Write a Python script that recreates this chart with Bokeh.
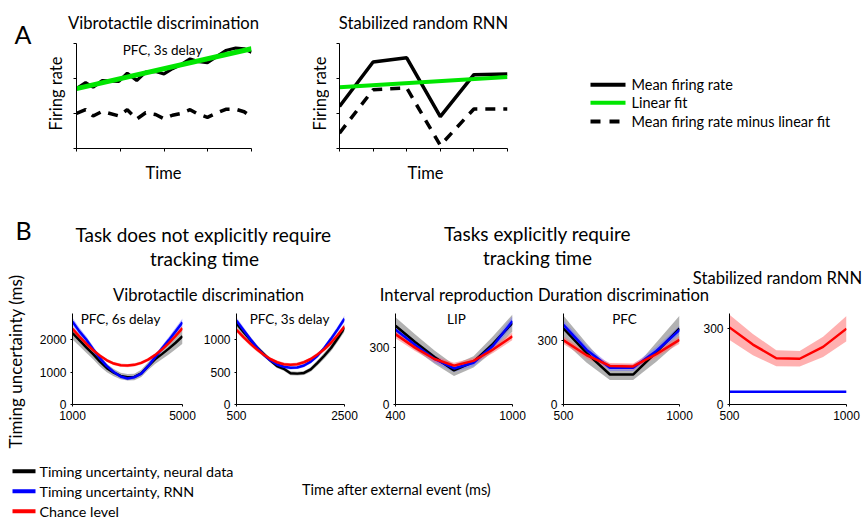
import numpy as np
from bokeh.plotting import figure
from bokeh.models import Range1d, Label, FixedTicker
from bokeh.layouts import row, column
from bokeh.embed import file_html
from bokeh.resources import INLINE

FONT = "Lato"
TICKFONT = "Liberation Sans"

# ---------------- data: panel A ----------------
a1_time = [0.0, 0.052, 0.095, 0.147, 0.242, 0.29, 0.344, 0.395, 0.452, 0.5,
           0.548, 0.595, 0.649, 0.691, 0.748, 0.796, 0.853, 0.91, 0.958, 1.0]
a1_mean = [1.71, 1.88, 1.75, 1.94, 1.92, 2.15, 1.94, 2.18, 2.2, 2.13,
           2.28, 2.39, 2.56, 2.49, 2.45, 2.61, 2.8, 2.87, 2.85, 2.75]
a1_fit_time = [0.0, 1.0]
a1_fit = [1.71, 2.85]
a1_detrended = [1.0, 1.11, 0.93, 1.06, 0.93, 1.11, 0.84, 1.02, 0.97, 0.85,
                0.95, 1.0, 1.11, 0.99, 0.89, 1.0, 1.12, 1.12, 1.05, 0.9]
a1_xticks = [0, 0.25, 0.5, 0.75, 1.0]

a2_time = [0, 1, 2, 3, 4, 5]
a2_mean = [1.2, 2.47, 2.59, 0.91, 2.11, 2.13]
a2_fit_time = [0, 5]
a2_fit = [1.75, 2.04]
a2_detrended = [0.44, 1.68, 1.73, 0.09, 1.13, 1.13]
a2_xticks = [0, 1, 2, 3, 4, 5]
a_yticks = [0, 1, 2, 3]

legend_a_labels = ["Mean firing rate", "Linear fit", "Mean firing rate minus linear fit"]

# ---------------- data: panel B ----------------
b1_t = [1000, 1250, 1500, 1750, 2000, 2250, 2500, 2750, 3000, 3250, 3500, 3750, 4000, 4250, 4500, 4750, 5000]
b1_neural = [2200, 1980, 1760, 1550, 1320, 1120, 980, 880, 840, 850, 960, 1180, 1390, 1550, 1720, 1900, 2100]
b1_neural_err = [200, 180, 170, 160, 150, 130, 110, 100, 100, 100, 110, 120, 140, 160, 180, 200, 230]
b1_rnn = [2550, 2250, 2000, 1700, 1420, 1180, 1000, 860, 800, 840, 950, 1180, 1450, 1720, 1980, 2250, 2530]
b1_rnn_err = [120, 110, 100, 90, 80, 70, 60, 55, 55, 55, 60, 70, 80, 90, 100, 110, 120]
b1_chance = [2330, 2090, 1870, 1670, 1500, 1360, 1260, 1210, 1200, 1220, 1280, 1380, 1520, 1690, 1890, 2110, 2350]
b1_chance_err = [70, 65, 60, 55, 55, 50, 50, 50, 50, 50, 50, 50, 55, 55, 60, 65, 70]

b2_t = [500, 625, 750, 875, 1000, 1125, 1250, 1375, 1500, 1625, 1750, 1875, 2000, 2125, 2250, 2375, 2500]
b2_neural = [1250, 1120, 1000, 880, 780, 680, 590, 550, 480, 475, 485, 540, 640, 750, 870, 1020, 1180]
b2_neural_err = [60, 55, 50, 45, 40, 35, 30, 30, 30, 30, 30, 35, 40, 45, 50, 55, 60]
b2_rnn = [1290, 1150, 1010, 880, 770, 680, 615, 580, 565, 570, 600, 660, 750, 870, 1010, 1160, 1320]
b2_rnn_err = [50, 45, 40, 35, 30, 28, 25, 25, 25, 25, 25, 28, 30, 35, 40, 45, 50]
b2_chance = [1150, 1040, 940, 850, 770, 700, 650, 620, 610, 620, 650, 700, 770, 850, 950, 1070, 1200]
b2_chance_err = [40, 38, 35, 33, 30, 28, 27, 26, 26, 26, 27, 28, 30, 33, 35, 38, 40]

b3_t = [400, 500, 600, 700, 800, 900, 1000]
b3_neural = [415, 330, 250, 180, 225, 320, 430]
b3_neural_err = [45, 40, 35, 30, 30, 40, 45]
b3_rnn = [395, 315, 240, 190, 220, 310, 440]
b3_rnn_err = [25, 22, 20, 18, 18, 22, 25]
b3_chance = [370, 300, 240, 205, 230, 290, 360]
b3_chance_err = [20, 18, 16, 15, 15, 18, 20]

b4_t = [500, 600, 700, 800, 900, 1000]
b4_neural = [355, 240, 140, 140, 245, 355]
b4_neural_err = [60, 45, 25, 25, 45, 60]
b4_rnn = [372, 255, 172, 172, 250, 348]
b4_rnn_err = [20, 18, 15, 15, 18, 20]
b4_chance = [300, 230, 180, 178, 235, 302]
b4_chance_err = [18, 16, 14, 14, 16, 18]

b5_t = [500, 600, 700, 800, 900, 1000]
b5_rnn = [50, 50, 50, 50, 50, 50]
b5_rnn_err = [3, 3, 3, 3, 3, 3]
b5_chance = [305, 237, 183, 181, 228, 300]
b5_chance_err = [50, 42, 32, 31, 40, 50]

legend_b_labels = ["Timing uncertainty, neural data", "Timing uncertainty, RNN", "Chance level"]

# ---------------- styles ----------------
GREEN = "#00e600"
BLUE = "#0000ff"
RED = "#ff0000"
GREY_BAND = "#7f7f7f"
BLUE_BAND = "#6f6fff"
RED_BAND = "#ff7070"


def make_fig(box, frame=None, xr=(0, 1), yr=(0, 1), axes=False):
    """box/frame in page pixels: box=(left, top, w, h), frame=(l, t, r, b)."""
    left, top, w, h = box
    if frame is None:
        frame = (left, top, left + w, top + h)
    fl, ft, fr, fb = frame
    kw = {}
    if not axes:
        kw = dict(x_axis_type=None, y_axis_type=None)
    p = figure(width=w, height=h, x_range=Range1d(*xr), y_range=Range1d(*yr),
               output_backend="svg", toolbar_location=None, title=None,
               min_border_left=fl - left, min_border_right=left + w - fr,
               min_border_top=ft - top, min_border_bottom=top + h - fb, **kw)
    p.outline_line_color = None
    p.grid.visible = False
    p.background_fill_color = "white"
    p.border_fill_color = "white"

    def fx(px):
        return xr[0] + (px - fl) / (fr - fl) * (xr[1] - xr[0])

    def fy(py):
        return yr[0] + (fb - py) / (fb - ft) * (yr[1] - yr[0])
    return p, fx, fy


def lab(p, fx, fy, px, py, text, size, font=FONT, align="center", angle=0.0):
    """py is the vertical centre of the text, in page pixels."""
    p.add_layout(Label(x=fx(px), y=fy(py), text=text, text_font=font,
                       text_font_size=f"{size}px", text_align=align,
                       text_baseline="middle", angle=angle, text_color="black"))


def style_axes(p, xticks, yticks, tick_out, show_labels):
    p.xaxis.ticker = FixedTicker(ticks=xticks)
    p.yaxis.ticker = FixedTicker(ticks=yticks)
    for ax in (p.xaxis, p.yaxis):
        ax.axis_line_color = "black"
        ax.axis_line_width = 1
        ax.major_tick_line_color = "black"
        ax.major_tick_in = 0
        ax.major_tick_out = tick_out
        ax.minor_tick_in = 0
        ax.minor_tick_out = 0
        if show_labels:
            ax.major_label_text_font = TICKFONT
            ax.major_label_text_font_size = "12px"
            ax.major_label_text_color = "black"
            ax.major_label_standoff = 4
        else:
            ax.major_label_text_font_size = "0px"
            ax.major_label_text_alpha = 0


# ================= Panel A =================
pA1L, fx, fy = make_fig((0, 0, 66, 198))
lab(pA1L, fx, fy, 22.5, 33, "A", 25)
lab(pA1L, fx, fy, 55, 93, "Firing rate", 16.5, angle=np.pi / 2)

pA1T, fx, fy = make_fig((66, 0, 224, 33))
lab(pA1T, fx, fy, 163, 22, "Vibrotactile discrimination", 16.6)

pA1, fx, fy = make_fig((66, 33, 224, 130), (76, 43, 251, 148), (0, 1), (0, 3), axes=True)
style_axes(pA1, a1_xticks, a_yticks, 3, False)
pA1.line(a1_time, a1_mean, line_color="black", line_width=3.2)
pA1.line(a1_time, a1_detrended, line_color="black", line_width=3.5, line_dash="10 8")
pA1.line(a1_fit_time, a1_fit, line_color=GREEN, line_width=5)
lab(pA1, fx, fy, 162, 49, "PFC, 3s delay", 13.5)

pA1B, fx, fy = make_fig((66, 163, 224, 35))
lab(pA1B, fx, fy, 163, 172, "Time", 16.5)

pA2L, fx, fy = make_fig((290, 0, 39, 198))
lab(pA2L, fx, fy, 319, 93, "Firing rate", 16.5, angle=np.pi / 2)

pA2T, fx, fy = make_fig((329, 0, 231, 33))
lab(pA2T, fx, fy, 423, 22, "Stabilized random RNN", 16.6)

pA2, fx, fy = make_fig((329, 33, 231, 130), (339, 43, 507, 148), (0, 5), (0, 3), axes=True)
style_axes(pA2, a2_xticks, a_yticks, 3, False)
pA2.line(a2_time, a2_mean, line_color="black", line_width=3.5)
pA2.line(a2_time, a2_detrended, line_color="black", line_width=3.5, line_dash="10 8")
pA2.line(a2_fit_time, a2_fit, line_color=GREEN, line_width=4)

pA2B, fx, fy = make_fig((329, 163, 231, 35))
lab(pA2B, fx, fy, 425, 172, "Time", 16.5)

# legend A
pLA, fx, fy = make_fig((560, 0, 303, 198))
leg_a_styles = [dict(line_color="black", line_width=4),
                dict(line_color=GREEN, line_width=4),
                dict(line_color="black", line_width=4, line_dash="10 9")]
leg_a_rows = [84.3, 102.3, 121.0]
for ly, style, text in zip(leg_a_rows, leg_a_styles, legend_a_labels):
    pLA.line([fx(590), fx(625)], [fy(ly), fy(ly)], **style)
    lab(pLA, fx, fy, 631, ly, text, 14.5, align="left")

# each figure wrapped in its own row so frames are not aligned across the column
colA1 = column(row(pA1T), row(pA1), row(pA1B))
colA2 = column(row(pA2T), row(pA2), row(pA2B))
rowA = row(pA1L, colA1, pA2L, colA2, pLA)

# ================= Panel B =================
pBL, fx, fy = make_fig((0, 198, 35, 252))
lab(pBL, fx, fy, 23, 229, "B", 25)
lab(pBL, fx, fy, 15, 361, "Timing uncertainty (ms)", 17, angle=np.pi / 2)

pBH, fx, fy = make_fig((35, 198, 828, 107))
lab(pBH, fx, fy, 203, 234, "Task does not explicitly require", 19)
lab(pBH, fx, fy, 204, 258, "tracking time", 19)
lab(pBH, fx, fy, 537, 232.5, "Tasks explicitly require", 19)
lab(pBH, fx, fy, 537, 256.5, "tracking time", 19)
lab(pBH, fx, fy, 208, 294, "Vibrotactile discrimination", 16.6)
lab(pBH, fx, fy, 456, 294, "Interval reproduction", 16.6)
lab(pBH, fx, fy, 623, 294, "Duration discrimination", 16.6)
lab(pBH, fx, fy, 777, 277.5, "Stabilized random RNN", 16.6)


def b_panel(box, frame, t, ymax, yticks, neural, neural_err, rnn, rnn_err, chance, chance_err,
            subtitle=None, sub_pos=None):
    p, fx, fy = make_fig(box, frame, (t[0], t[-1]), (0, ymax), axes=True)
    style_axes(p, [t[0], t[-1]], yticks, 2, True)
    if neural is not None:
        p.varea(x=t, y1=np.subtract(neural, neural_err), y2=np.add(neural, neural_err),
                fill_color=GREY_BAND, fill_alpha=0.6)
    p.varea(x=t, y1=np.subtract(rnn, rnn_err), y2=np.add(rnn, rnn_err),
            fill_color=BLUE_BAND, fill_alpha=0.5)
    p.varea(x=t, y1=np.subtract(chance, chance_err), y2=np.add(chance, chance_err),
            fill_color=RED_BAND, fill_alpha=0.55)
    if neural is not None:
        p.line(t, neural, line_color="black", line_width=2.5)
    p.line(t, rnn, line_color=BLUE, line_width=2.5)
    p.line(t, chance, line_color=RED, line_width=2.5)
    if subtitle:
        lab(p, fx, fy, sub_pos[0], sub_pos[1], subtitle, 13.5)
    return p


pB1 = b_panel((35, 305, 165, 145), (72, 313, 182, 404), b1_t, 2800, [0, 1000, 2000],
              b1_neural, b1_neural_err, b1_rnn, b1_rnn_err, b1_chance, b1_chance_err,
              "PFC, 6s delay", (120, 318.5))
pB2 = b_panel((200, 305, 162, 145), (236, 313, 344, 404), b2_t, 1400, [0, 500, 1000],
              b2_neural, b2_neural_err, b2_rnn, b2_rnn_err, b2_chance, b2_chance_err,
              "PFC, 3s delay", (289, 318.5))
pB3 = b_panel((362, 305, 169, 145), (395, 313, 512, 404), b3_t, 480, [0, 300],
              b3_neural, b3_neural_err, b3_rnn, b3_rnn_err, b3_chance, b3_chance_err,
              "LIP", (456, 318.5))
pB4 = b_panel((531, 305, 166, 145), (563, 313, 679, 404), b4_t, 425, [0, 300],
              b4_neural, b4_neural_err, b4_rnn, b4_rnn_err, b4_chance, b4_chance_err,
              "PFC", (624, 318.5))
pB5 = b_panel((697, 305, 166, 145), (729, 313, 846, 404), b5_t, 360, [0, 300],
              None, None, b5_rnn, b5_rnn_err, b5_chance, b5_chance_err)

# bottom strip: legend B and shared x label
pBot, fx, fy = make_fig((0, 450, 863, 69))
leg_b_colors = ["black", BLUE, RED]
leg_b_rows = [470.7, 490.7, 510.7]
for ly, col, text in zip(leg_b_rows, leg_b_colors, legend_b_labels):
    pBot.line([fx(12), fx(35)], [fy(ly), fy(ly)], line_color=col, line_width=4)
    lab(pBot, fx, fy, 39, ly, text, 14.3, align="left")
lab(pBot, fx, fy, 396, 489, "Time after external event (ms)", 14.5)

rowB = row(pBL, column(pBH, row(pB1, pB2, pB3, pB4, pB5)))

layout = column(rowA, rowB, pBot)

open("out.html", "w").write(file_html(layout, INLINE))
